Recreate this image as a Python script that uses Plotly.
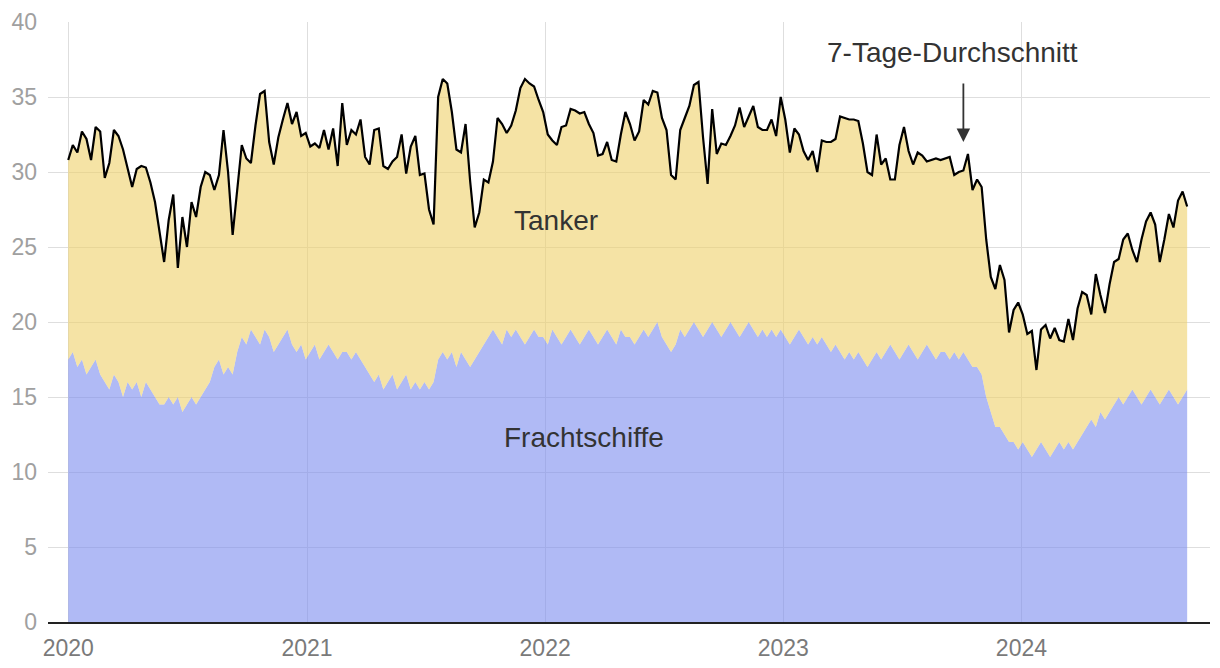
import pandas as pd
import plotly.graph_objects as go

# Weekly readings (starting 2020-01-01, every 7 days) of the 7-day average
# of all ships (total) and of cargo ships (Frachtschiffe)
start_date = "2020-01-01"
total_7d = [
    30.8, 31.8, 31.3, 32.7, 32.2, 30.8, 33.0, 32.7, 29.6, 30.6,
    32.8, 32.4, 31.5, 30.2, 29.0, 30.2, 30.4, 30.3, 29.3, 28.0,
    26.0, 24.0, 26.8, 28.5, 23.6, 27.0, 25.0, 28.0, 27.0, 29.0,
    30.0, 29.8, 28.8, 29.8, 32.8, 30.0, 25.8, 29.0, 31.8, 30.9,
    30.6, 33.1, 35.2, 35.4, 32.0, 30.5, 32.3, 33.5, 34.6, 33.2,
    34.0, 32.4, 32.6, 31.7, 31.9, 31.6, 32.8, 31.5, 32.9, 30.4,
    34.6, 31.8, 32.8, 32.5, 33.5, 31.0, 30.5, 32.8, 32.9, 30.4,
    30.2, 30.7, 31.0, 32.5, 29.9, 31.7, 32.4, 29.8, 29.9, 27.5,
    26.5, 35.0, 36.2, 35.9, 34.0, 31.5, 31.3, 33.2, 29.4, 26.3,
    27.3, 29.5, 29.3, 30.7, 33.6, 33.2, 32.6, 33.1, 34.1, 35.6,
    36.2, 35.9, 35.7, 34.8, 34.0, 32.5, 32.1, 31.8, 33.0, 33.1,
    34.2, 34.1, 33.9, 34.0, 33.2, 32.6, 31.1, 31.2, 32.0, 30.8,
    30.7, 32.5, 34.0, 33.2, 32.1, 32.7, 34.8, 34.5, 35.4, 35.3,
    33.6, 32.8, 29.8, 29.5, 32.8, 33.6, 34.4, 35.8, 36.0, 32.3,
    29.2, 34.2, 31.2, 31.9, 31.8, 32.4, 33.1, 34.3, 33.0, 33.7,
    34.4, 33.0, 32.8, 32.8, 33.5, 32.4, 35.0, 33.5, 31.3, 32.9,
    32.5, 31.4, 30.8, 31.4, 30.0, 32.1, 32.0, 32.0, 32.2, 33.7,
    33.6, 33.5, 33.5, 33.4, 31.9, 30.0, 29.8, 32.5, 30.5, 30.9,
    29.5, 29.5, 31.8, 33.0, 31.4, 30.5, 31.3, 31.1, 30.7, 30.8,
    30.9, 30.8, 30.9, 31.0, 29.8, 30.0, 30.1, 31.2, 28.8, 29.5,
    29.0, 25.5, 23.0, 22.2, 23.8, 22.8, 19.3, 20.8, 21.3, 20.5,
    19.2, 19.4, 16.8, 19.5, 19.8, 18.9, 19.6, 18.8, 18.7, 20.2,
    18.8, 20.9, 22.0, 21.8, 20.5, 23.2, 21.8, 20.6, 22.5, 24.0,
    24.2, 25.5, 25.9, 24.8, 24.0, 25.5, 26.7, 27.3, 26.5, 24.0,
    25.5, 27.2, 26.3, 28.1, 28.7, 27.7,
]
cargo = [
    17.5, 18, 17, 17.5, 16.5, 17, 17.5, 16.5,
    16, 15.5, 16.5, 16, 15, 16, 15.5, 16, 15, 16, 15.5, 15, 14.5,
    14.5, 15, 14.5, 15, 14, 14.5, 15, 14.5, 15, 15.5, 16,
    17, 17.5, 16.5, 17, 16.5,
    18, 19, 18.5, 19.5, 19, 18.5, 19.5, 19, 18, 18.5, 19, 19.5, 18.5,
    18, 18.5, 17.5, 18, 18.5, 17.5, 18, 18.5, 18, 17.5, 18,
    18, 17.5, 18, 17.5, 17, 16.5,
    16, 16.5, 15.5, 16, 16.5, 15.5, 16, 16.5, 15.5, 16, 15.5, 16, 15.5, 16,
    17.5, 18, 17.5, 18, 17, 18, 17.5, 17, 17.5, 18,
    18.5, 19, 19.5, 19, 18.5, 19.5, 19, 19.5, 19, 18.5, 19, 19.5, 19,
    19, 18.5, 19.5, 19, 18.5, 19, 19.5, 19, 18.5, 19, 19.5, 19, 18.5, 19, 19.5, 19, 18.5, 19.5, 19, 19,
    18.5, 19, 19.5, 19, 19.5, 20, 19, 18.5, 18, 18.5, 19.5, 19, 19.5, 20, 19.5,
    19, 19.5, 20, 19.5, 19, 19.5, 20, 19.5, 19, 19.5, 20, 19.5, 19, 19.5, 19, 19.5, 19, 19.5, 19, 18.5,
    19, 19.5, 19, 18.5, 19, 18.5, 19, 18.5, 18, 18.5, 18, 17.5, 18, 17.5, 18, 17.5, 17,
    17.5, 18, 17.5, 18, 18.5, 18, 17.5, 18, 18.5, 18, 17.5, 18, 18.5, 18, 17.5, 18, 18, 17.5, 18, 17.5, 18, 17.5, 17, 17, 16.5,
    15, 14, 13, 13, 12.5, 12, 12,
    11.5, 12, 11.5, 11, 11.5, 12, 11.5, 11, 11.5, 12, 11.5, 12, 11.5, 12, 12.5,
    13, 13.5, 13, 14, 13.5, 14, 14.5,
    15, 14.5, 15, 15.5, 15, 14.5, 15, 15.5, 15, 14.5, 15, 15.5, 15, 14.5, 15, 15.5,
]
year_ticks = ["2020-01-01", "2021-01-01", "2022-01-01", "2023-01-01", "2024-01-01"]
year_labels = ["2020", "2021", "2022", "2023", "2024"]
y_ticks = [0, 5, 10, 15, 20, 25, 30, 35, 40]

n = min(len(total_7d), len(cargo))
dates = pd.date_range(start_date, periods=n, freq="7D")

FONT = "Liberation Sans, Arial, Helvetica, sans-serif"

fig = go.Figure()
fig.add_trace(go.Scatter(
    x=dates, y=cargo[:n], mode="lines", line=dict(width=0, color="rgba(0,0,0,0)"),
    fill="tozeroy", fillcolor="rgba(123,140,238,0.6)", name="Frachtschiffe",
    hoverinfo="skip", showlegend=False,
))
fig.add_trace(go.Scatter(
    x=dates, y=total_7d[:n], mode="lines", line=dict(width=0, color="rgba(0,0,0,0)"),
    fill="tonexty", fillcolor="rgba(238,208,105,0.6)", name="Tanker",
    hoverinfo="skip", showlegend=False,
))
fig.add_trace(go.Scatter(
    x=dates, y=total_7d[:n], mode="lines", line=dict(width=2.2, color="#000000"),
    name="7-Tage-Durchschnitt", showlegend=False,
))

fig.add_annotation(x="2022-01-17", y=26.8, text="Tanker", showarrow=False,
                   font=dict(family=FONT, size=28, color="#333333"))
fig.add_annotation(x="2022-03-01", y=12.3, text="Frachtschiffe", showarrow=False,
                   font=dict(family=FONT, size=28, color="#333333"))
fig.add_annotation(x="2023-09-18", y=38.0, text="7-Tage-Durchschnitt", showarrow=False,
                   font=dict(family=FONT, size=28, color="#333333"))
fig.add_annotation(x="2023-10-04", y=32.0, text="", showarrow=True, ax=0, ay=-60,
                   arrowhead=2, arrowsize=1.5, arrowwidth=1.8, arrowcolor="#333333")

fig.update_layout(
    width=1212, height=660,
    margin=dict(l=40, r=10, t=14, b=46),
    plot_bgcolor="white", paper_bgcolor="white",
    font=dict(family=FONT),
    showlegend=False,
)
fig.update_xaxes(
    range=["2019-12-01", "2024-10-16"], automargin=False,
    tickvals=year_ticks, ticktext=year_labels,
    showgrid=True, gridcolor="#dedede", gridwidth=1,
    showline=True, linecolor="#222222", linewidth=2,
    ticks="", ticklabelstandoff=4, tickfont=dict(size=23, color="#7a7a7a"),
)
fig.update_yaxes(
    range=[0, 40], tickvals=y_ticks, automargin=False,
    showgrid=True, gridcolor="#dedede", gridwidth=1,
    zeroline=False, showline=False, ticks="", ticklabelstandoff=10,
    tickfont=dict(size=23, color="#a0a0a0"),
)

fig.write_html("out.html")
